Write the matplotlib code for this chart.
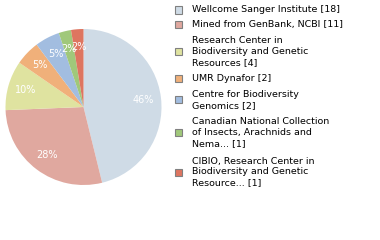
import matplotlib
matplotlib.use("Agg")
import matplotlib.pyplot as plt
from matplotlib.patches import Rectangle

labels = ["Wellcome Sanger Institute [18]",
          "Mined from GenBank, NCBI [11]",
          "Research Center in\nBiodiversity and Genetic\nResources [4]",
          "UMR Dynafor [2]",
          "Centre for Biodiversity\nGenomics [2]",
          "Canadian National Collection\nof Insects, Arachnids and\nNema... [1]",
          "CIBIO, Research Center in\nBiodiversity and Genetic\nResource... [1]"]
counts = [18, 11, 4, 2, 2, 1, 1]
colors = ["#cfdbe6", "#e0a89f", "#dfe3a0", "#f0b07a", "#a2bde0", "#a0c87a", "#de7560"]

W, H = 380, 240
fig = plt.figure(figsize=(W / 100, H / 100), dpi=100)
fig.set_facecolor("white")

# pie axes, in pixel coords converted to figure fraction
cx, cy, r = 83.5, 107, 78
ax = fig.add_axes([(cx - r) / W, (H - cy - r) / H, 2 * r / W, 2 * r / H])
wedges, texts, autotexts = ax.pie(
    counts, colors=colors, startangle=90, counterclock=False,
    autopct=lambda p: f"{int(p)}%", pctdistance=0.77,
    wedgeprops=dict(linewidth=0),
    textprops=dict(color="white", fontsize=7))
ax.set_xlim(-1, 1)
ax.set_ylim(-1, 1)
ax.set_aspect("auto")
ax.axis("off")

# legend drawn by hand: square centred on each text block
line_h = 12.2
gap = 2.6
y = 10 - line_h / 2
for lab, col in zip(labels, colors):
    n = lab.count("\n") + 1
    block = n * line_h
    mid = y + block / 2
    fig.patches.append(Rectangle((175 / W, (H - mid - 3.5) / H), 7 / W, 7 / H,
                                 transform=fig.transFigure, facecolor=col,
                                 edgecolor="#808080", linewidth=0.8))
    fig.text(192 / W, (H - mid) / H, lab, fontsize=6.8, color="black",
             va="center", ha="left", linespacing=1.28)
    y += block + gap

fig.savefig("out.png", dpi=100)
plt.close()
